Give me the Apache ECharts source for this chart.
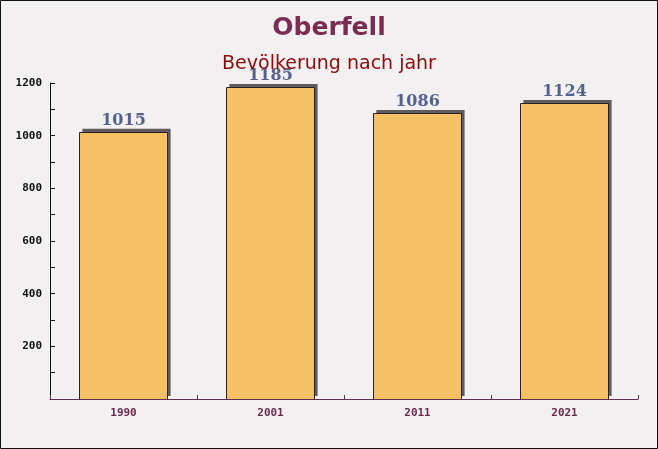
<!DOCTYPE html>
<html><head><meta charset="utf-8">
<script src="https://cdn.jsdelivr.net/npm/echarts@6/dist/echarts.min.js"></script>
<style>html,body{margin:0;padding:0;}#c{width:658px;height:449px;}</style>
</head><body><div id="c"></div>
<script>
const years = ['1990', '2001', '2011', '2021'];
const population = [1015, 1185, 1086, 1124];
const yTicks = [0, 200, 400, 600, 800, 1000, 1200];

const chart = echarts.init(document.getElementById('c'));
chart.setOption({
  backgroundColor: '#f2f0f1',
  animation: false,
  title: [
    { text: 'Oberfell', left: 'center', top: 11,
      textStyle: { fontFamily: 'DejaVu Sans', fontWeight: 'bold', fontSize: 25, color: '#7a2c52' } },
    { text: 'Bevölkerung nach jahr', left: 'center', top: 50,
      textStyle: { fontFamily: 'DejaVu Sans', fontWeight: 'normal', fontSize: 19, color: '#8b0a0a' } }
  ],
  graphic: [
    { type: 'rect', shape: { x: 0.5, y: 0.5, width: 657, height: 448 },
      style: { fill: 'none', stroke: '#111', lineWidth: 1 }, z: 100 }
  ],
  grid: { left: 50, right: 20, top: 83, bottom: 50 },
  xAxis: {
    type: 'category', data: years, z: 10,
    axisLine: { show: true, lineStyle: { color: '#5e3050', width: 1 } },
    axisTick: { show: true, inside: true, length: 4, lineStyle: { color: '#5e3050', width: 1 } },
    axisLabel: { fontFamily: 'DejaVu Sans Mono', fontWeight: 'bold', fontSize: 11, color: '#6b2a4e', margin: 9 }
  },
  yAxis: {
    type: 'value', min: yTicks[0], max: yTicks[yTicks.length - 1], interval: 200,
    axisLine: { show: true, lineStyle: { color: '#111', width: 1 } },
    axisTick: { show: true, inside: true, length: 5, lineStyle: { color: '#111' } },
    minorTick: { show: true, splitNumber: 2, length: 5, lineStyle: { color: '#111' } },
    splitLine: { show: false },
    axisLabel: { fontFamily: 'DejaVu Sans Mono', fontWeight: 'bold', fontSize: 11, color: '#111', margin: 8,
      showMinLabel: false, formatter: v => String(v) }
  },
  series: [{
    type: 'custom',
    data: population.map((v, i) => [i, v]),
    encode: { x: 0, y: 1 },
    renderItem: function (params, api) {
      const top = api.coord([api.value(0), api.value(1)]);
      const base = api.coord([api.value(0), 0]);
      const w = api.size([1, 0])[0] * 0.6;
      const x0 = top[0] - w / 2;
      const h = base[1] - top[1];
      return {
        type: 'group',
        children: [
          { type: 'rect', shape: { x: x0 + 3, y: top[1] - 3, width: w, height: h },
            style: { fill: '#5f5b5f' } },
          { type: 'rect', shape: { x: Math.round(x0) + 0.5, y: Math.round(top[1]) + 0.5, width: Math.round(w), height: Math.round(h) },
            style: { fill: '#f6c064', stroke: '#2a2226', lineWidth: 1 } },
          { type: 'text', style: { text: String(api.value(1)), x: top[0], y: top[1] - 3,
              align: 'center', verticalAlign: 'bottom',
              font: 'bold 16px "DejaVu Serif"', fill: '#56628e' } }
        ]
      };
    }
  }]
});
</script></body></html>
